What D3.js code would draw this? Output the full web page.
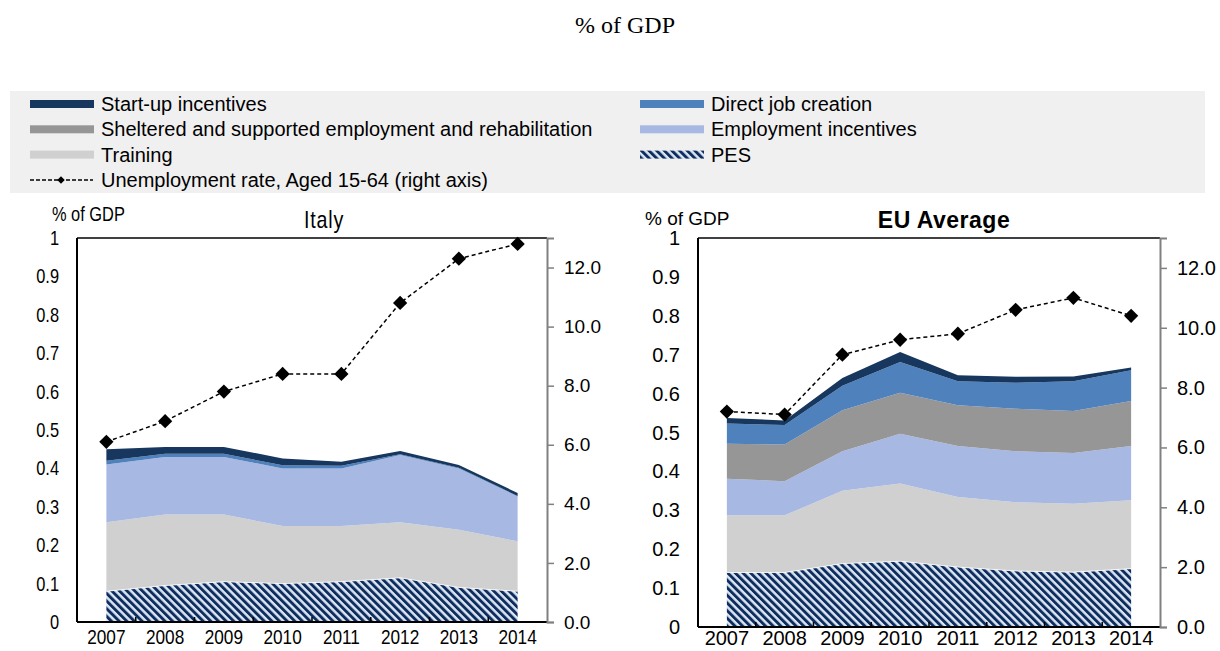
<!DOCTYPE html>
<html>
<head>
<meta charset="utf-8">
<script src="https://cdn.jsdelivr.net/npm/d3@7"></script>
<style>
    body { margin: 0; background: #ffffff; }
    svg { display: block; }
</style>
</head>
<body>
<script>
// categories
var years = ["2007", "2008", "2009", "2010", "2011", "2012", "2013", "2014"];

// stack order, bottom to top
var keys = ["pes", "training", "empinc", "sheltered", "djc", "startup"];

// Italy, % of GDP
var italyPES       = [0.080, 0.095, 0.105, 0.100, 0.105, 0.115, 0.090, 0.080];
var italyTraining  = [0.180, 0.185, 0.175, 0.150, 0.145, 0.145, 0.150, 0.130];
var italyEmpInc    = [0.150, 0.150, 0.150, 0.150, 0.150, 0.175, 0.160, 0.117];
var italySheltered = [0.000, 0.000, 0.000, 0.000, 0.000, 0.000, 0.000, 0.000];
var italyDJC       = [0.010, 0.008, 0.008, 0.008, 0.007, 0.002, 0.002, 0.001];
var italyStartup   = [0.030, 0.018, 0.018, 0.018, 0.010, 0.008, 0.007, 0.008];
var italyUnemp     = [6.1, 6.8, 7.8, 8.4, 8.4, 10.8, 12.3, 12.8];

// EU average, % of GDP
var euPES       = [0.140, 0.140, 0.163, 0.169, 0.154, 0.144, 0.141, 0.150];
var euTraining  = [0.147, 0.147, 0.187, 0.200, 0.180, 0.177, 0.176, 0.176];
var euEmpInc    = [0.094, 0.088, 0.102, 0.128, 0.131, 0.131, 0.130, 0.139];
var euSheltered = [0.090, 0.094, 0.105, 0.105, 0.105, 0.109, 0.108, 0.116];
var euDJC       = [0.052, 0.050, 0.063, 0.079, 0.062, 0.067, 0.077, 0.079];
var euStartup   = [0.014, 0.012, 0.020, 0.026, 0.015, 0.015, 0.012, 0.007];
var euUnemp     = [7.2, 7.1, 9.1, 9.6, 9.8, 10.6, 11.0, 10.4];

// tick labels
var leftTicks = [0, 0.1, 0.2, 0.3, 0.4, 0.5, 0.6, 0.7, 0.8, 0.9, 1];
var rightTicks = [0, 2, 4, 6, 8, 10, 12];

var colors = {
    startup: "#17375e",
    djc: "#4f81bd",
    sheltered: "#969696",
    empinc: "#a7b9e3",
    training: "#d0d0d0",
    pes: "url(#pes)"
};

var sans = "'Liberation Sans', Arial, sans-serif";

var svg = d3.select("body").append("svg")
    .attr("width", 1220)
    .attr("height", 651);

// stripes for PES
var pat = svg.append("defs").append("pattern")
    .attr("id", "pes")
    .attr("patternUnits", "userSpaceOnUse")
    .attr("width", 5.4)
    .attr("height", 10)
    .attr("patternTransform", "rotate(-45)");
pat.append("rect").attr("width", 5.4).attr("height", 10).attr("fill", "#dce6f2");
pat.append("rect").attr("width", 2.9).attr("height", 10).attr("fill", "#0d2d5e");

// no narrow font installed, so squeeze Liberation Sans
function place(sel, x, y, squeeze) {
    return sel.attr("transform", function (d, i) {
        var xx = typeof x === "function" ? x(d, i) : x;
        var yy = typeof y === "function" ? y(d, i) : y;
        return "translate(" + xx + "," + yy + ")" + (squeeze ? " scale(0.82,1)" : "");
    });
}

// title
svg.append("text")
    .attr("x", 625).attr("y", 33)
    .attr("text-anchor", "middle")
    .style("font-family", "'Liberation Serif', 'Times New Roman', serif")
    .style("font-size", "24px")
    .text("% of GDP");

// legend
var legend = svg.append("g");
legend.append("rect")
    .attr("x", 10).attr("y", 91)
    .attr("width", 1195).attr("height", 102)
    .attr("fill", "#f0f0f0");

var legendItems = [
    { label: "Start-up incentives", key: "startup", col: 0, row: 0 },
    { label: "Sheltered and supported employment and rehabilitation", key: "sheltered", col: 0, row: 1 },
    { label: "Training", key: "training", col: 0, row: 2 },
    { label: "Unemployment rate, Aged 15-64 (right axis)", key: "line", col: 0, row: 3 },
    { label: "Direct job creation", key: "djc", col: 1, row: 0 },
    { label: "Employment incentives", key: "empinc", col: 1, row: 1 },
    { label: "PES", key: "pes", col: 1, row: 2 }
];
var colX = [30, 640];
legendItems.forEach(function (d) {
    var x0 = colX[d.col];
    var cy = 104 + d.row * 25.3;
    if (d.key === "line") {
        legend.append("line")
            .attr("x1", x0).attr("x2", x0 + 63)
            .attr("y1", cy).attr("y2", cy)
            .attr("stroke", "#000").attr("stroke-width", 1.5)
            .attr("stroke-dasharray", "4,2");
        legend.append("path")
            .attr("d", d3.symbol().type(d3.symbolDiamond2).size(36)())
            .attr("transform", "translate(" + (x0 + 31) + "," + cy + ")")
            .attr("fill", "#000");
    } else {
        legend.append("rect")
            .attr("x", x0).attr("y", cy - 4)
            .attr("width", 64).attr("height", 8)
            .attr("fill", colors[d.key]);
    }
    legend.append("text")
        .attr("x", x0 + 71).attr("y", cy + 7)
        .style("font-family", sans)
        .style("font-size", "20px")
        .text(d.label);
});

function drawPanel(cfg) {
    var g = svg.append("g");
    var x = d3.scaleBand().domain(years).range([cfg.left, cfg.right]);
    var y = d3.scaleLinear().domain([0, 1]).range([cfg.bottom, cfg.top]);
    var y2 = d3.scaleLinear().domain([0, 13]).range([cfg.bottom, cfg.top]);
    var cx = function (yr) { return x(yr) + x.bandwidth() / 2; };

    var rows = years.map(function (yr, i) {
        var r = { year: yr };
        keys.forEach(function (k) { r[k] = cfg.data[k][i]; });
        return r;
    });
    var stacked = d3.stack().keys(keys)(rows);

    var area = d3.area()
        .x(function (d) { return cx(d.data.year); })
        .y0(function (d) { return y(d[0]); })
        .y1(function (d) { return y(d[1]); });

    g.selectAll("path.layer")
        .data(stacked)
        .enter()
        .append("path")
        .attr("class", "layer")
        .attr("d", area)
        .attr("fill", function (d) { return colors[d.key]; });

    // thin white seam on top of PES
    g.append("path")
        .attr("d", d3.line()
            .x(function (d) { return cx(d.data.year); })
            .y(function (d) { return y(d[1]); })(stacked[0]))
        .attr("fill", "none")
        .attr("stroke", "#ffffff")
        .attr("stroke-width", 0.8);

    // frame: top and left black, right grey
    g.append("line")
        .attr("x1", cfg.left).attr("x2", cfg.right)
        .attr("y1", cfg.top).attr("y2", cfg.top)
        .attr("stroke", "#000").attr("stroke-width", 1.5);
    g.append("line")
        .attr("x1", cfg.left).attr("x2", cfg.left)
        .attr("y1", cfg.top).attr("y2", cfg.bottom)
        .attr("stroke", "#000").attr("stroke-width", 2);

    // bottom axis, ticks between categories pointing up
    var bx = g.append("g");
    bx.append("line")
        .attr("x1", cfg.left).attr("x2", cfg.right)
        .attr("y1", cfg.bottom).attr("y2", cfg.bottom)
        .attr("stroke", "#000").attr("stroke-width", 2);
    bx.selectAll("line.tk")
        .data(years.slice(1))
        .enter()
        .append("line")
        .attr("class", "tk")
        .attr("x1", function (d) { return x(d); })
        .attr("x2", function (d) { return x(d); })
        .attr("y1", cfg.bottom).attr("y2", cfg.bottom - 5)
        .attr("stroke", "#000").attr("stroke-width", 1.5);
    var xl = bx.selectAll("text")
        .data(years)
        .enter()
        .append("text")
        .attr("text-anchor", "middle")
        .style("font-family", sans)
        .style("font-size", cfg.xFontSize)
        .text(function (d) { return d; });
    place(xl, function (d) { return cx(d); }, cfg.xLabelY, cfg.narrow);

    // left tick labels
    var ll = g.selectAll("text.lt")
        .data(leftTicks)
        .enter()
        .append("text")
        .attr("class", "lt")
        .attr("text-anchor", "end")
        .style("font-family", sans)
        .style("font-size", cfg.leftFontSize)
        .text(function (d) { return String(+d.toFixed(1)); });
    place(ll, cfg.left - 18, function (d) { return y(d) + 7; }, cfg.narrow);

    // right axis
    var ra = d3.axisRight(y2)
        .tickValues(rightTicks)
        .tickSize(7)
        .tickPadding(10)
        .tickFormat(d3.format(".1f"));
    var rg = g.append("g")
        .attr("transform", "translate(" + cfg.right + ",0)")
        .call(ra);
    rg.select(".domain").attr("stroke", "#808080").attr("stroke-width", 2);
    rg.selectAll(".tick line").attr("stroke", "#808080").attr("stroke-width", 1.5);
    rg.selectAll(".tick text")
        .attr("fill", "#000")
        .style("font-family", sans)
        .style("font-size", cfg.rightFontSize);

    // unemployment line
    var line = d3.line()
        .x(function (d, i) { return cx(years[i]); })
        .y(function (d) { return y2(d); });
    g.append("path")
        .attr("d", line(cfg.unemp))
        .attr("fill", "none")
        .attr("stroke", "#000")
        .attr("stroke-width", 1.5)
        .attr("stroke-dasharray", "4,3");
    g.selectAll("path.mk")
        .data(cfg.unemp)
        .enter()
        .append("path")
        .attr("class", "mk")
        .attr("d", d3.symbol().type(d3.symbolDiamond2).size(130)())
        .attr("transform", function (d, i) {
            return "translate(" + cx(years[i]) + "," + y2(d) + ")";
        })
        .attr("fill", "#000");

    // unit label and title
    var ul = g.append("text")
        .style("font-family", sans)
        .style("font-size", cfg.unitFontSize)
        .text("% of GDP");
    place(ul, cfg.unitX, cfg.unitY, cfg.narrow);
    var tl = g.append("text")
        .attr("text-anchor", "middle")
        .style("font-family", sans)
        .style("font-size", cfg.titleSize)
        .style("font-weight", cfg.titleWeight)
        .style("letter-spacing", cfg.titleSpacing)
        .text(cfg.title);
    place(tl, cfg.titleX, cfg.titleY, cfg.narrow);
}

drawPanel({
    title: "Italy",
    narrow: true,
    left: 77, right: 547, top: 238, bottom: 622,
    data: {
        pes: italyPES, training: italyTraining, empinc: italyEmpInc,
        sheltered: italySheltered, djc: italyDJC, startup: italyStartup
    },
    unemp: italyUnemp,
    xFontSize: "21px", xLabelY: 644, leftFontSize: "20px", rightFontSize: "19px",
    unitX: 52, unitY: 221, unitFontSize: "20px",
    titleX: 324, titleY: 228, titleSize: "24px",
    titleWeight: "normal", titleSpacing: "1px"
});

drawPanel({
    title: "EU Average",
    narrow: false,
    left: 698, right: 1160, top: 238, bottom: 627,
    data: {
        pes: euPES, training: euTraining, empinc: euEmpInc,
        sheltered: euSheltered, djc: euDJC, startup: euStartup
    },
    unemp: euUnemp,
    xFontSize: "20px", xLabelY: 645, leftFontSize: "20px", rightFontSize: "20px",
    unitX: 645, unitY: 225, unitFontSize: "19px",
    titleX: 944, titleY: 228, titleSize: "23px",
    titleWeight: "bold", titleSpacing: "0.5px"
});
</script>
</body>
</html>
